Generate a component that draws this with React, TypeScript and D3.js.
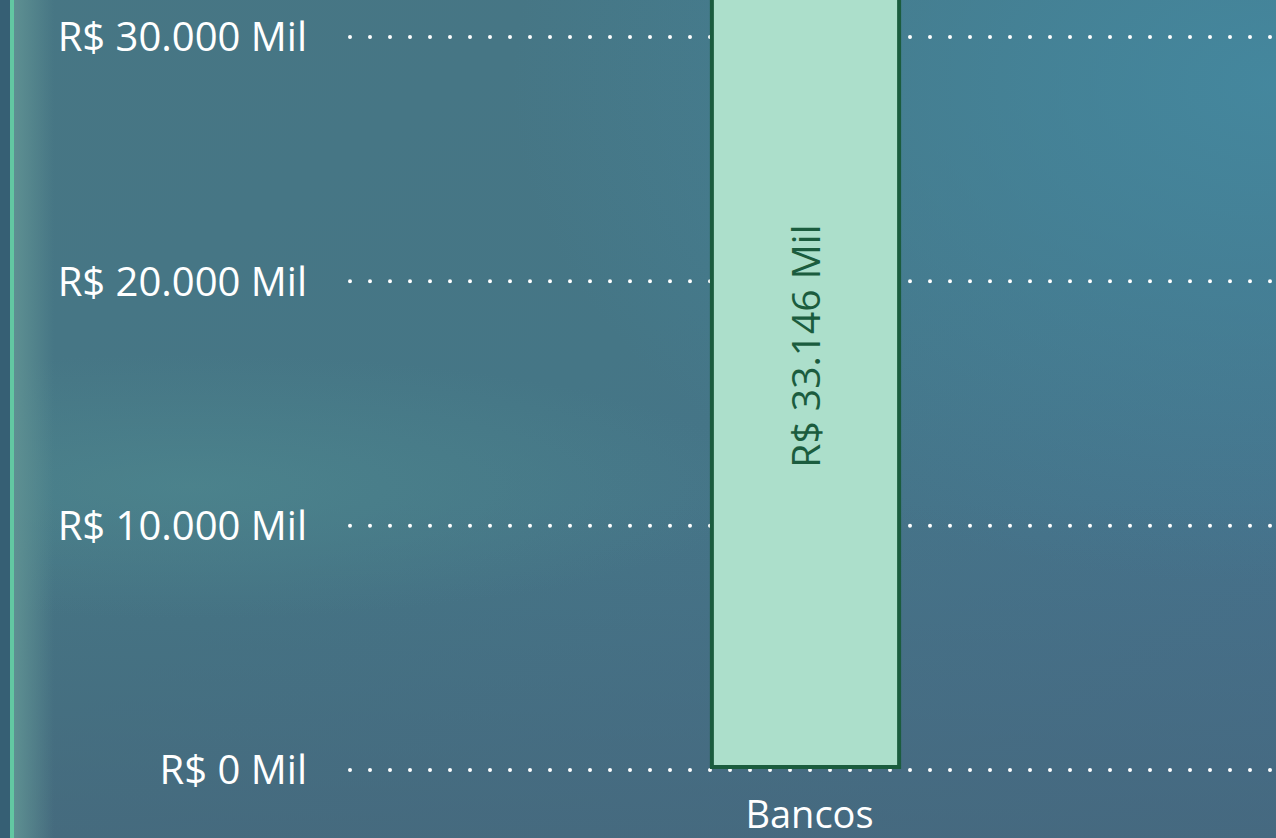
import React, { useEffect, useRef } from 'react';
import * as d3 from 'd3';

const categories = ['Bancos'];
const values = [33146];
const yTicks = [0, 10000, 20000, 30000];

const width = 1276;
const height = 838;

const fmt = (v: number) => `R$ ${d3.format(',')(v).replace(/,/g, '.')} Mil`;

export default function App() {
  const svgRef = useRef<SVGSVGElement>(null);

  useEffect(() => {
    if (svgRef.current === null) {
      return;
    }
    document.body.style.margin = '0';
    const svg = d3.select(svgRef.current);
    svg.selectAll('*').remove();

    // background
    const defs = svg.append('defs');
    const bg = defs
      .append('linearGradient')
      .attr('id', 'bg')
      .attr('x1', '0%')
      .attr('y1', '0%')
      .attr('x2', '100%')
      .attr('y2', '100%');
    bg.append('stop').attr('offset', '0%').attr('stop-color', '#477684');
    bg.append('stop').attr('offset', '45%').attr('stop-color', '#457686');
    bg.append('stop').attr('offset', '100%').attr('stop-color', '#46708e');

    const topRight = defs
      .append('radialGradient')
      .attr('id', 'tr')
      .attr('cx', '100%')
      .attr('cy', '10%')
      .attr('r', '60%');
    topRight.append('stop').attr('offset', '0%').attr('stop-color', '#4489a0').attr('stop-opacity', 0.9);
    topRight.append('stop').attr('offset', '100%').attr('stop-color', '#4489a0').attr('stop-opacity', 0);

    const bottom = defs
      .append('linearGradient')
      .attr('id', 'bt')
      .attr('x1', '0')
      .attr('y1', '0')
      .attr('x2', '0')
      .attr('y2', '1');
    bottom.append('stop').attr('offset', '60%').attr('stop-color', '#45667a').attr('stop-opacity', 0);
    bottom.append('stop').attr('offset', '100%').attr('stop-color', '#45667a').attr('stop-opacity', 0.7);

    const band = defs
      .append('radialGradient')
      .attr('id', 'band')
      .attr('cx', '15%')
      .attr('cy', '58%')
      .attr('r', '45%')
      .attr('gradientTransform', 'translate(0.15,0.58) scale(1,0.35) translate(-0.15,-0.58)');
    band.append('stop').attr('offset', '0%').attr('stop-color', '#4f8a90').attr('stop-opacity', 0.6);
    band.append('stop').attr('offset', '100%').attr('stop-color', '#4f8a90').attr('stop-opacity', 0);

    const edge = defs
      .append('linearGradient')
      .attr('id', 'edge')
      .attr('x1', '0')
      .attr('y1', '0')
      .attr('x2', '1')
      .attr('y2', '0');
    edge.append('stop').attr('offset', '0%').attr('stop-color', '#5e9092').attr('stop-opacity', 1);
    edge.append('stop').attr('offset', '100%').attr('stop-color', '#5e9092').attr('stop-opacity', 0);

    svg.append('rect').attr('width', width).attr('height', height).attr('fill', 'url(#bg)');
    svg.append('rect').attr('width', width).attr('height', height).attr('fill', 'url(#tr)');
    svg.append('rect').attr('width', width).attr('height', height).attr('fill', 'url(#bt)');
    svg.append('rect').attr('width', width).attr('height', height).attr('fill', 'url(#band)');
    svg.append('rect').attr('x', 14).attr('width', 40).attr('height', height).attr('fill', 'url(#edge)');
    svg.append('rect').attr('x', 0).attr('width', 10).attr('height', height).attr('fill', '#365f74');
    svg.append('rect').attr('x', 10).attr('width', 4).attr('height', height).attr('fill', '#62c8a2');

    const y = d3.scaleLinear().domain([0, 30000]).range([770, 37]);
    const x = d3.scaleBand<string>().domain(categories).range([350, 1261]).padding(0.653);

    const font = "'Open Sans', 'Segoe UI', sans-serif";

    // gridlines
    svg
      .append('g')
      .selectAll('line')
      .data(yTicks)
      .join('line')
      .attr('x1', 350)
      .attr('x2', width)
      .attr('y1', (d) => y(d))
      .attr('y2', (d) => y(d))
      .attr('stroke', '#ffffff')
      .attr('stroke-width', 4)
      .attr('stroke-linecap', 'round')
      .attr('stroke-dasharray', '0 20');

    // y labels
    svg
      .append('g')
      .selectAll('text')
      .data(yTicks)
      .join('text')
      .attr('x', 307)
      .attr('y', (d) => y(d))
      .attr('dy', '0.36em')
      .attr('text-anchor', 'end')
      .attr('fill', '#ffffff')
      .style('font-family', font)
      .style('font-size', '40px')
      .text((d) => fmt(d));

    // bars
    const data = categories.map((c, i) => ({ c, v: values[i] }));
    svg
      .append('g')
      .selectAll('rect')
      .data(data)
      .join('rect')
      .attr('x', (d) => (x(d.c) as number) + 2)
      .attr('y', (d) => y(d.v))
      .attr('width', x.bandwidth() - 4)
      .attr('height', (d) => y(0) - 3 - y(d.v))
      .attr('fill', '#acdfcb')
      .attr('stroke', '#1b5c3e')
      .attr('stroke-width', 4);

    // bar labels
    svg
      .append('g')
      .selectAll('text')
      .data(data)
      .join('text')
      .attr('transform', (d) => {
        const cx = (x(d.c) as number) + x.bandwidth() / 2;
        const cy = (y(d.v) + y(0)) / 2 - 19;
        return `translate(${cx},${cy}) rotate(-90)`;
      })
      .attr('text-anchor', 'middle')
      .attr('dy', '0.36em')
      .attr('fill', '#1b5c3e')
      .style('font-family', font)
      .style('font-size', '39px')
      .style('font-weight', 500)
      .text((d) => fmt(d.v));

    // category labels
    svg
      .append('g')
      .selectAll('text')
      .data(categories)
      .join('text')
      .attr('x', (d) => (x(d) as number) + x.bandwidth() / 2 + 4)
      .attr('y', 828)
      .attr('text-anchor', 'middle')
      .attr('fill', '#ffffff')
      .style('font-family', font)
      .style('font-size', '38px')
      .text((d) => d);
  }, []);

  return <svg ref={svgRef} width={width} height={height} style={{ display: 'block' }}></svg>;
}
